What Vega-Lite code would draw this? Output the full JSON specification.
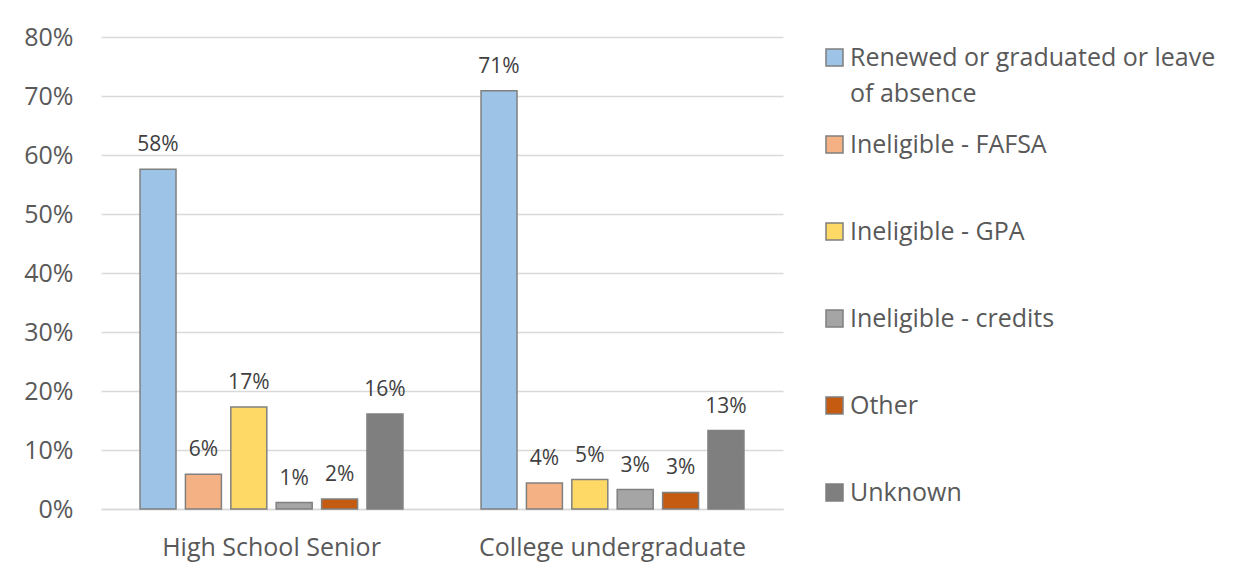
{
  "$schema": "https://vega.github.io/schema/vega-lite/v6.json",
  "width": 682,
  "height": 472,
  "autosize": {"type": "none"},
  "padding": {"left": 101, "top": 37, "right": 466, "bottom": 68},
  "background": "white",
  "data": {
    "values": [
      {"group": "High School Senior", "status": "Renewed or graduated or leave of absence", "pct": 0.576},
      {"group": "High School Senior", "status": "Ineligible - FAFSA", "pct": 0.059},
      {"group": "High School Senior", "status": "Ineligible - GPA", "pct": 0.173},
      {"group": "High School Senior", "status": "Ineligible - credits", "pct": 0.011},
      {"group": "High School Senior", "status": "Other", "pct": 0.017},
      {"group": "High School Senior", "status": "Unknown", "pct": 0.161},
      {"group": "College undergraduate", "status": "Renewed or graduated or leave of absence", "pct": 0.709},
      {"group": "College undergraduate", "status": "Ineligible - FAFSA", "pct": 0.044},
      {"group": "College undergraduate", "status": "Ineligible - GPA", "pct": 0.050},
      {"group": "College undergraduate", "status": "Ineligible - credits", "pct": 0.033},
      {"group": "College undergraduate", "status": "Other", "pct": 0.028},
      {"group": "College undergraduate", "status": "Unknown", "pct": 0.133}
    ]
  },
  "encoding": {
    "x": {
      "field": "group", "type": "nominal",
      "sort": ["High School Senior", "College undergraduate"],
      "scale": {"paddingInner": 0, "paddingOuter": 0},
      "title": null,
      "axis": {"labelAngle": 0, "labelFont": "Open Sans", "labelFontSize": 25, "labelColor": "#595959", "labelPadding": 26, "labelLimit": 0, "ticks": false, "domain": true, "domainColor": "#d9d9d9", "domainWidth": 1.5, "grid": false}
    },
    "xOffset": {
      "field": "status", "type": "nominal",
      "sort": ["Renewed or graduated or leave of absence", "Ineligible - FAFSA", "Ineligible - GPA", "Ineligible - credits", "Other", "Unknown"],
      "scale": {"paddingInner": 0.207, "paddingOuter": 0.86}
    },
    "y": {
      "field": "pct", "type": "quantitative",
      "scale": {"domain": [0, 0.8]},
      "title": null,
      "axis": {"values": [0, 0.1, 0.2, 0.3, 0.4, 0.5, 0.6, 0.7, 0.8], "format": ".0%", "labelFont": "Open Sans", "labelFontSize": 25, "labelColor": "#595959", "labelPadding": 28, "ticks": false, "domain": false, "grid": true, "gridColor": "#d9d9d9", "gridWidth": 1.5}
    }
  },
  "layer": [
    {
      "mark": {"type": "bar", "stroke": "#808080", "strokeWidth": 1.5},
      "encoding": {
        "color": {
          "field": "status", "type": "nominal",
          "scale": {
            "domain": ["Renewed or graduated or leave of absence", "Ineligible - FAFSA", "Ineligible - GPA", "Ineligible - credits", "Other", "Unknown"],
            "range": ["#9DC3E6", "#F4B183", "#FFD966", "#A5A5A5", "#C55A11", "#7F7F7F"]
          },
          "legend": {
            "title": null,
            "orient": "none",
            "legendX": 721,
            "legendY": 8,
            "padding": 0,
            "symbolType": "square",
            "symbolSize": 289,
            "symbolStrokeColor": "#7f7f7f",
            "symbolStrokeWidth": 1.5,
            "symbolOpacity": 1,
            "labelFont": "Open Sans",
            "labelFontSize": 25,
            "labelColor": "#595959",
            "labelOffset": 3,
            "labelLimit": 0,
            "rowPadding": 25,
            "gridAlign": "all",
            "labelExpr": "datum.label == 'Renewed or graduated or leave of absence' ? ['Renewed or graduated or leave', 'of absence'] : datum.label",
            "encode": {"labels": {"update": {"lineHeight": {"value": 36}}}}
          }
        }
      }
    },
    {
      "mark": {"type": "text", "baseline": "alphabetic", "dy": -18, "font": "Open Sans", "fontSize": 21, "color": "#404040"},
      "encoding": {"text": {"field": "pct", "type": "quantitative", "format": ".0%"}}
    }
  ],
  "config": {"view": {"stroke": null}}
}
